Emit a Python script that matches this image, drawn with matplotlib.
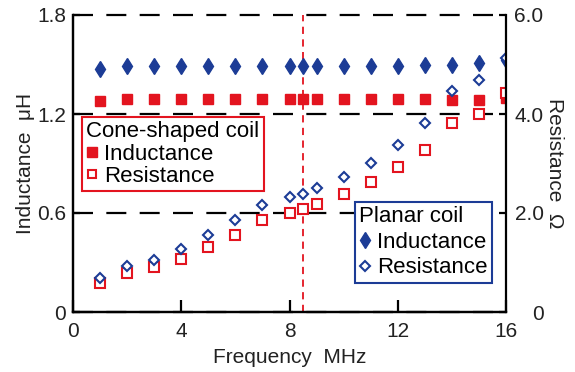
import matplotlib

matplotlib.use("Agg")
import matplotlib.pyplot as plt
from matplotlib.lines import Line2D

plt.rcParams["font.family"] = ["Liberation Sans", "DejaVu Sans"]

RED = "#e3141f"
BLUE = "#1c3c96"
TXT = "#222222"

freq = [1, 2, 3, 4, 5, 6, 7, 8, 8.5, 9, 10, 11, 12, 13, 14, 15, 16]
planar_L = [1.47, 1.49, 1.49, 1.49, 1.49, 1.49, 1.49, 1.49, 1.49, 1.49,
            1.49, 1.49, 1.49, 1.50, 1.50, 1.51, 1.53]
cone_L = [1.28, 1.29, 1.29, 1.29, 1.29, 1.29, 1.29, 1.29, 1.29, 1.29,
          1.29, 1.29, 1.29, 1.29, 1.285, 1.285, 1.30]
planar_R = [0.69, 0.92, 1.05, 1.27, 1.55, 1.86, 2.16, 2.33, 2.38, 2.50,
            2.73, 3.02, 3.37, 3.81, 4.47, 4.69, 5.13]
cone_R = [0.58, 0.78, 0.90, 1.08, 1.31, 1.56, 1.86, 2.01, 2.09, 2.18,
          2.38, 2.62, 2.92, 3.27, 3.81, 4.01, 4.42]
resonance = 8.5

fig = plt.figure(figsize=(5.75, 3.72), dpi=100)
ax1 = fig.add_axes([73 / 575, 60 / 372, 433 / 575, 297 / 372])
ax2 = ax1.twinx()

ax1.set_xlim(0, 16)
ax1.set_ylim(0, 1.8)
ax2.set_ylim(0, 6)

ax1.plot(freq, planar_L, ls="none", marker="d", ms=8.5, color=BLUE, mec=BLUE)
ax1.plot(freq, cone_L, ls="none", marker="s", ms=6.5, color=RED, mec=RED)
ax2.plot(freq, cone_R, ls="none", marker="s", ms=6.5, mfc="white", mec=RED, mew=1.5)
ax2.plot(freq, planar_R, ls="none", marker="D", ms=5.5, mfc="white", mec=BLUE, mew=1.5)

ax1.axvline(resonance, color=RED, lw=1.3, ls=(0, (4, 3)), zorder=1)

ax1.set_yticks([0, 0.6, 1.2, 1.8])
ax1.set_yticklabels(["0", "0.6", "1.2", "1.8"])
ax2.set_yticks([0, 2, 4, 6])
ax2.set_yticklabels(["0", "2.0", "4.0", "6.0"])
ax1.set_xticks([0, 4, 8, 12, 16])

ax1.grid(axis="y", color="black", lw=1.6, ls=(0, (9, 6)), zorder=0)
for gl in ax1.get_ygridlines():
    gl.set_clip_on(False)
ax1.set_axisbelow(True)

for ax in (ax1, ax2):
    ax.spines["top"].set_visible(False)
    for s in ax.spines.values():
        s.set_linewidth(1.6)
ax1.spines["right"].set_visible(False)

ax1.tick_params(axis="x", direction="in", length=9, width=1.6, labelsize=15,
                colors="black", labelcolor=TXT, pad=7)
ax1.tick_params(axis="y", direction="in", length=5, width=1.6, labelsize=15,
                colors="black", labelcolor=TXT, pad=5)
ax2.tick_params(axis="y", direction="in", length=5, width=1.6, labelsize=15,
                colors="black", labelcolor=TXT, pad=27)
for lab in ax2.get_yticklabels():
    lab.set_ha("right")

ax1.set_xlabel("Frequency  MHz", fontsize=15, color=TXT, labelpad=5)
ax1.set_ylabel("Inductance  μH", fontsize=15, color=TXT, va="center")
ax1.yaxis.set_label_coords(-0.11, 0.5)
ax2.set_ylabel("Resistance  Ω", fontsize=15, color=TXT, rotation=270, va="center")
ax2.yaxis.set_label_coords(1.113, 0.5)

cone_handles = [
    Line2D([], [], ls="none", marker="s", ms=6.5, color=RED, mec=RED),
    Line2D([], [], ls="none", marker="s", ms=6, mfc="white", mec=RED, mew=1.5),
]
planar_handles = [
    Line2D([], [], ls="none", marker="d", ms=8.5, color=BLUE, mec=BLUE),
    Line2D([], [], ls="none", marker="D", ms=5.5, mfc="white", mec=BLUE, mew=1.5),
]

leg_kw = dict(loc="upper left", fontsize=16, title_fontsize=16, handlelength=0.5,
              handletextpad=0.3, borderpad=0.2, borderaxespad=0,
              fancybox=False, framealpha=1, bbox_transform=fig.transFigure)
leg1 = ax2.legend(cone_handles, ["Inductance", "Resistance"], title="Cone-shaped coil",
                  bbox_to_anchor=(82 / 575, 1 - 117 / 372), labelspacing=0.05, **leg_kw)
leg1.get_frame().set_edgecolor(RED)
leg1.get_frame().set_linewidth(1.5)
leg1._legend_box.align = "left"
ax2.add_artist(leg1)
leg2 = ax2.legend(planar_handles, ["Inductance", "Resistance"], title="Planar coil",
                  bbox_to_anchor=(355 / 575, 1 - 202 / 372), labelspacing=0.2, **leg_kw)
leg2.get_frame().set_edgecolor(BLUE)
leg2.get_frame().set_linewidth(1.5)
leg2._legend_box.align = "left"

fig.savefig("out.png", dpi=100)
